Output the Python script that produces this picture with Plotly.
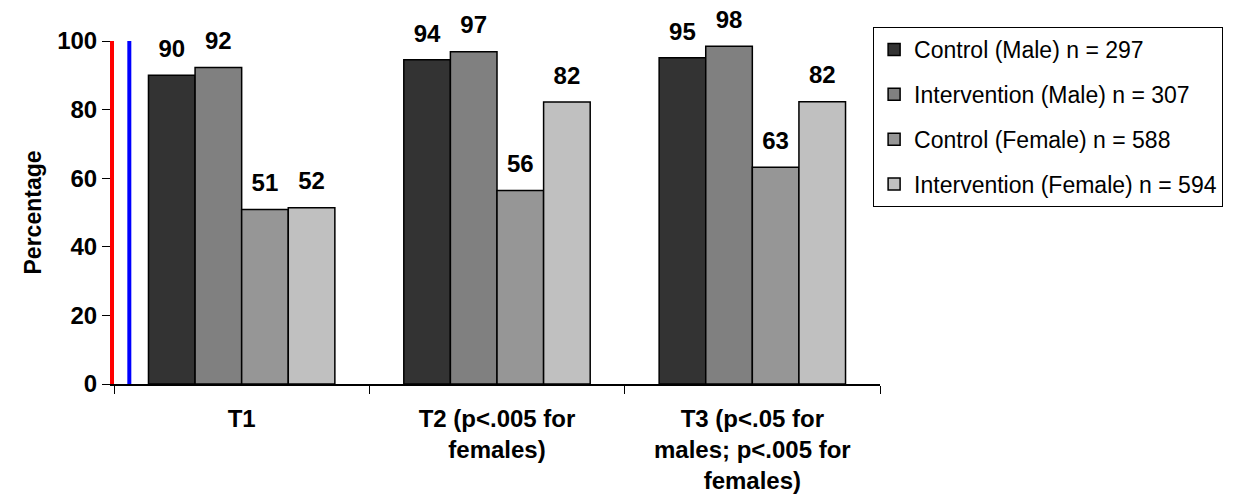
import plotly.graph_objects as go

categories = ["T1", "T2 (p<.005 for<br>females)", "T3 (p<.05 for<br>males; p<.005 for<br>females)"]
series_names = [
    "Control (Male) n = 297",
    "Intervention (Male) n = 307",
    "Control (Female) n = 588",
    "Intervention (Female) n = 594",
]
control_male = [90.0, 94.5, 95.1]
intervention_male = [92.3, 96.9, 98.5]
control_female = [50.9, 56.4, 63.2]
intervention_female = [51.4, 82.2, 82.3]
label_male_c = [90, 94, 95]
label_male_i = [92, 97, 98]
label_female_c = [51, 56, 63]
label_female_i = [52, 82, 82]
y_ticks = [0, 20, 40, 60, 80, 100]

series_values = [control_male, intervention_male, control_female, intervention_female]
series_labels = [label_male_c, label_male_i, label_female_c, label_female_i]
colors = ["#333333", "#808080", "#969696", "#c0c0c0"]

FONT = "Arial, Liberation Sans, sans-serif"
BAR_GAP = 0.27
PAGE_OFFSET = 8  # default body margin of the html page

fig = go.Figure()
for i, (name, vals, col) in enumerate(zip(series_names, series_values, colors)):
    fig.add_trace(go.Bar(
        x=categories, y=vals, name=name, offsetgroup=str(i),
        legendgroup=str(i),
        marker=dict(color=col, line=dict(color="black", width=1.5)),
        hoverinfo="skip",
    ))
for i, (vals, labs) in enumerate(zip(series_values, series_labels)):
    fig.add_trace(go.Scatter(
        x=categories, y=vals, offsetgroup=str(i), mode="markers+text",
        marker=dict(size=18, opacity=0),
        text=[str(v) for v in labs], textposition="top center",
        textfont=dict(family=FONT, size=24, color="black", weight="bold"),
        cliponaxis=False, showlegend=False, hoverinfo="skip",
    ))

fig.update_layout(
    width=1235 - PAGE_OFFSET, height=500 - PAGE_OFFSET,
    barmode="group", bargap=BAR_GAP, bargroupgap=0,
    scattermode="group", scattergap=BAR_GAP,
    plot_bgcolor="white", paper_bgcolor="white",
    margin=dict(l=114 - PAGE_OFFSET, r=355, t=41 - PAGE_OFFSET, b=116, autoexpand=False),
    font=dict(family=FONT, color="black"),
    legend=dict(
        x=0.991, y=1.041, xanchor="left", yanchor="top",
        bordercolor="black", borderwidth=1, bgcolor="white",
        font=dict(family=FONT, size=23, color="black"),
        traceorder="grouped", tracegroupgap=12,
    ),
    showlegend=True,
)
fig.update_xaxes(
    showline=True, linecolor="black", linewidth=1.5,
    ticks="outside", tickson="boundaries", ticklen=8, tickcolor="black",
    tickfont=dict(family=FONT, size=24, color="black", weight="bold"),
    ticklabelstandoff=12,
    showgrid=False, zeroline=False,
)
fig.update_yaxes(
    range=[0, 100], tickvals=y_ticks,
    showline=True, linecolor="red", linewidth=4,
    ticks="outside", ticklen=8, tickcolor="black",
    tickfont=dict(family=FONT, size=24, color="black", weight="bold"),
    title=dict(text="Percentage", font=dict(family=FONT, size=23, color="black", weight="bold"), standoff=10),
    showgrid=False, zeroline=False,
)
fig.add_shape(type="line", xref="paper", yref="paper", x0=0.02, x1=0.02, y0=0, y1=1,
              line=dict(color="blue", width=4))

fig.write_html("out.html", config={"displayModeBar": False})
